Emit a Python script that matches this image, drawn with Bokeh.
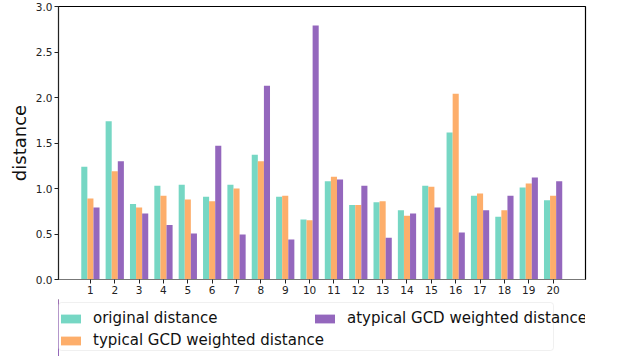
from bokeh.plotting import figure
from bokeh.layouts import column
from bokeh.models import Range1d, Legend, LegendItem, FixedTicker, CustomJSTickFormatter, BoxAnnotation
from bokeh.embed import file_html
from bokeh.resources import INLINE
import numpy as np

categories = list(range(1, 21))
original = [1.24, 1.74, 0.83, 1.03, 1.04, 0.91, 1.04, 1.37, 0.91, 0.66,
            1.08, 0.82, 0.85, 0.76, 1.03, 1.615, 0.92, 0.69, 1.01, 0.87]
typical = [0.89, 1.19, 0.79, 0.92, 0.88, 0.86, 1.00, 1.30, 0.92, 0.65,
           1.13, 0.82, 0.86, 0.70, 1.02, 2.04, 0.945, 0.76, 1.055, 0.92]
atypical = [0.79, 1.30, 0.725, 0.60, 0.505, 1.47, 0.495, 2.13, 0.44, 2.79,
            1.10, 1.03, 0.46, 0.725, 0.79, 0.516, 0.76, 0.92, 1.12, 1.08]
series_names = ["original distance", "typical GCD weighted distance", "atypical GCD weighted distance"]
colors = ["#76D7C4", "#FDAE6B", "#9467BD"]
y_ticks = [0, 0.5, 1.0, 1.5, 2.0, 2.5, 3.0]

x = np.array(categories, dtype=float)
bw = 0.25
offsets = [-bw, 0.0, bw]
series = [original, typical, atypical]

TOP_H = 299
p = figure(width=624, height=TOP_H, output_backend="svg", toolbar_location=None,
           x_range=Range1d(-0.31, 21.33), y_range=Range1d(0, 3.0),
           min_border_left=58, min_border_right=39, min_border_top=6, min_border_bottom=20)

for vals, off, c in zip(series, offsets, colors):
    p.vbar(x=x + off, top=vals, width=bw, fill_color=c, line_color=None)

p.xgrid.visible = False
p.ygrid.visible = False
p.outline_line_color = "black"
p.outline_line_width = 1.2

p.xaxis.ticker = FixedTicker(ticks=categories)
p.yaxis.ticker = FixedTicker(ticks=y_ticks)
p.yaxis.formatter = CustomJSTickFormatter(code="return tick.toFixed(1);")

for ax in (p.xaxis[0], p.yaxis[0]):
    ax.minor_tick_line_color = None
    ax.major_label_text_font = "DejaVu Sans"
    ax.major_label_text_font_size = "10.5px"
    ax.major_label_text_color = "#222222"
    ax.major_tick_out = 4
    ax.major_tick_in = 0
    ax.major_label_standoff = 2
    ax.major_tick_line_color = "#222222"
p.xaxis.axis_line_color = "#777777"
p.yaxis.axis_line_color = "#222222"

p.yaxis.axis_label = "distance"
p.yaxis.axis_label_text_font = "DejaVu Sans"
p.yaxis.axis_label_text_font_size = "18px"
p.yaxis.axis_label_text_font_style = "normal"
p.yaxis.axis_label_text_color = "#111111"
p.yaxis.axis_label_standoff = 3

# legend strip (frame is aligned with the main plot's frame)
p2 = figure(width=624, height=356 - TOP_H, output_backend="svg", toolbar_location=None,
            x_range=Range1d(100, 101), y_range=Range1d(0, 1),
            x_axis_location=None, y_axis_location=None, min_border=0)
p2.xgrid.visible = False
p2.ygrid.visible = False
p2.outline_line_color = None

box = BoxAnnotation(left=0, right=495, top=6, bottom=54,
                    left_units="screen", right_units="screen",
                    top_units="screen", bottom_units="screen",
                    fill_color="white", fill_alpha=1.0,
                    line_color="#cccccc", line_width=1, border_radius=3)
p2.add_layout(box)

rs = [p2.vbar(x=x, top=vals, width=bw, fill_color=c, line_color=None)
      for vals, c in zip(series, colors)]
items = [LegendItem(label=n, renderers=[r]) for n, r in zip(series_names, rs)]

common = dict(label_text_font="DejaVu Sans", label_text_font_size="15px",
              label_text_color="#111111", label_height=20,
              glyph_width=25, glyph_height=11, label_standoff=10,
              spacing=2, padding=5, margin=0,
              border_line_color=None, background_fill_alpha=0)
leg1 = Legend(items=items[:2], location=(0, 6), **common)
leg2 = Legend(items=items[2:], location=(254, 28), **common)
p2.add_layout(leg1, "center")
p2.add_layout(leg2, "center")

open("out.html", "w").write(file_html(column(p, p2, spacing=0), INLINE))
